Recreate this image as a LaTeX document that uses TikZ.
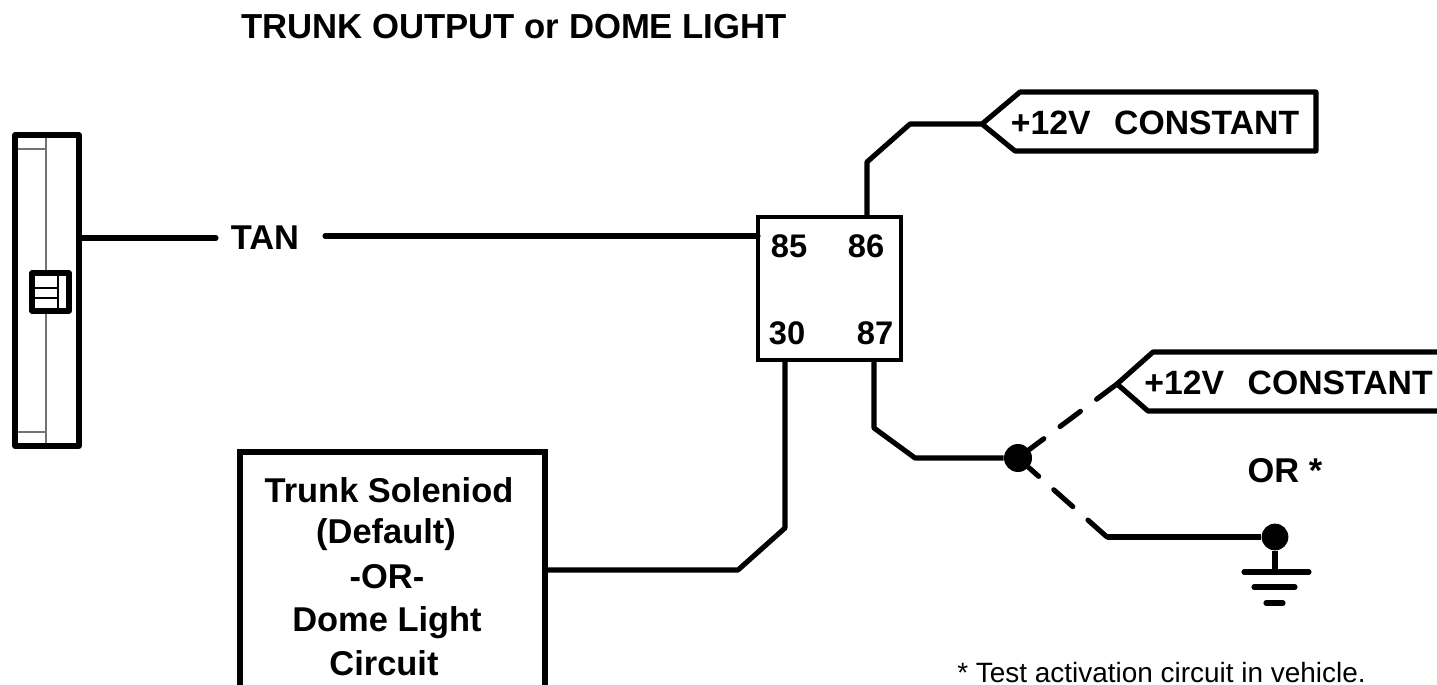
\documentclass[tikz,border=0pt]{standalone}
\usepackage{fontspec}
\setmainfont{Liberation Sans}
\tikzset{
  wire/.style={line width=2.9pt,line join=round},
  dashwire/.style={wire,line cap=round,dash pattern=on 14.5pt off 11.5pt},
  thin part/.style={line width=0.7pt,black!55},
  inner part/.style={line width=0.7pt},
  dot/.style={circle,fill=black,inner sep=0pt,minimum size=0.56cm},
  pin/.style={font=\fontsize{18.6}{22}\selectfont\bfseries,inner sep=0pt,anchor=base},
  lab/.style={font=\fontsize{19.6}{22}\selectfont\bfseries,inner sep=0pt,anchor=base},
  tag text/.style={font=\fontsize{19.2}{22}\selectfont\bfseries,inner sep=0pt,anchor=base},
  note/.style={font=\fontsize{15.9}{20}\selectfont,inner sep=0pt,anchor=base west}
}
\begin{document}
\begin{tikzpicture}[x=0.02cm,y=-0.02cm]
    \useasboundingbox (0,0) rectangle (1437,685);
    % title
    \node[lab,anchor=base west,font=\fontsize{19.75}{22}\selectfont\bfseries] (title) at (241,38.5) {TRUNK OUTPUT or DOME LIGHT};

    % module on the left
    \draw[thin part] (46,135) -- (46,446);
    \draw[thin part] (15,149) -- (46,149);
    \draw[thin part] (15,432) -- (46,432);
    \draw[wire] (15,135) rectangle (79,446);
    \draw[wire,fill=white] (32,273) rectangle (69,311);
    \draw[inner part] (58,273) -- (58,311);
    \draw[inner part] (32,288) -- (58,288);
    \draw[inner part] (32,298) -- (58,298);
    \coordinate (module) at (79,238);

    % relay
    \node[draw,line width=2pt,minimum width=2.86cm,minimum height=2.86cm,inner sep=0pt] (relay) at (829.5,288.5) {};
    \node[pin] (p85) at (789,258) {85};
    \node[pin] (p86) at (866,258) {86};
    \node[pin] (p30) at (787,345) {30};
    \node[pin] (p87) at (875,345) {87};
    \coordinate (pin85) at (758,236);
    \coordinate (pin86) at (867,217);
    \coordinate (pin30) at (785,360);
    \coordinate (pin87) at (874,360);

    % tan wire
    \node[lab] (tan) at (265,250) {TAN};
    \draw[wire,line cap=round] (module) -- (216,238);
    \draw[wire,line cap=round] (325,236) -- (pin85);

    % +12V tags
    \coordinate (tagA) at (982,124);
    \draw[wire] (1316,92) -- (1020,92) -- (tagA) -- (1015,151) -- (1316,151) -- cycle;
    \node[tag text] (constA) at (1155,135) {+12V\hspace{0.7em}CONSTANT};
    \coordinate (tagB) at (1117,384);
    \draw[wire] (1450,352) -- (1153,352) -- (tagB) -- (1148,411) -- (1450,411);
    \node[tag text] (constB) at (1288.5,395) {+12V\hspace{0.7em}CONSTANT};
    \draw[wire] (pin86) -- (867,162) -- (910,124) -- (tagA);

    % load box
    \node[draw,line width=2.9pt,minimum width=6.1cm,minimum height=5.4cm,inner sep=0pt] (load) at (392.5,587) {};
    \node[lab] (l1) at (389,503) {Trunk Soleniod};
    \node[lab] (l2) at (386,544) {(Default)};
    \node[lab] (l3) at (387,589) {-OR-};
    \node[lab] (l4) at (387,631) {Dome Light};
    \node[lab] (l5) at (384,675) {Circuit};
    \draw[wire] (pin30) -- (785,528) -- (738,570) -- (545,570);

    % output side
    \node[dot] (junction) at (1018,458) {};
    \node[dot,minimum size=0.535cm] (gnddot) at (1275,537) {};
    \coordinate (bend) at (1107,537);
    \draw[wire] (pin87) -- (874,428) -- (915,458) -- (junction);
    \draw[dashwire] (tagB) -- (junction);
    \draw[dashwire] (bend) -- (junction);
    \draw[wire] (bend) -- (gnddot);
    \draw[wire] (gnddot) -- (1275,572);
    \draw[wire,line cap=round] (1244,572) -- (1309,572);
    \draw[wire,line cap=round] (1254,587) -- (1295,587);
    \draw[wire,line cap=round] (1266,603) -- (1283,603);
    \node[lab] (orlab) at (1285,483) {OR *};
    \node[note] (test) at (957,682) {* Test activation circuit in vehicle.};
\end{tikzpicture}
\end{document}
